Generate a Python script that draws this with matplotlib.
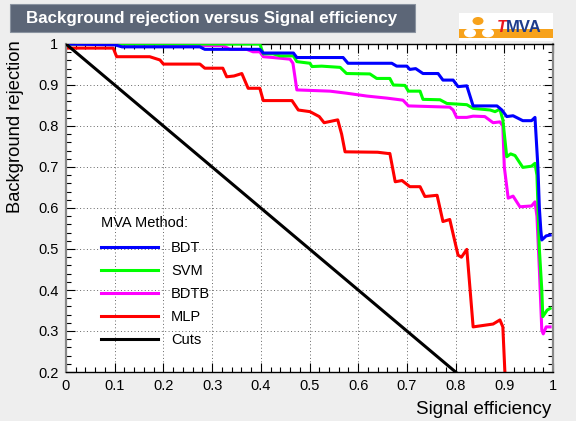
import numpy as np
import matplotlib
matplotlib.use('Agg')
import matplotlib.pyplot as plt
from matplotlib.patches import Rectangle, Circle
from matplotlib.ticker import MultipleLocator, FuncFormatter

plt.rcParams['font.family'] = ['Liberation Sans', 'DejaVu Sans']

# ---- ROC curves (signal efficiency, background rejection)
bdt_x = [0, 0.100, 0.115, 0.275, 0.285, 0.398, 0.405, 0.467, 0.474, 0.569, 0.579,
         0.669, 0.679, 0.700, 0.706, 0.718, 0.733, 0.764, 0.774, 0.795, 0.805,
         0.823, 0.836, 0.885, 0.895, 0.905, 0.918, 0.938, 0.956, 0.963, 0.969,
         0.972, 0.975, 0.977, 0.986, 0.994]
bdt_y = [1, 0.998, 0.993, 0.993, 0.987, 0.987, 0.978, 0.978, 0.967, 0.967, 0.953,
         0.953, 0.946, 0.946, 0.938, 0.940, 0.928, 0.928, 0.912, 0.912, 0.896,
         0.898, 0.849, 0.849, 0.839, 0.823, 0.825, 0.813, 0.813, 0.821, 0.700,
         0.600, 0.546, 0.522, 0.532, 0.534]

svm_x = [0, 0.398, 0.405, 0.425, 0.440, 0.467, 0.474, 0.501, 0.505, 0.525, 0.563,
         0.576, 0.624, 0.638, 0.665, 0.672, 0.696, 0.703, 0.727, 0.733, 0.768,
         0.782, 0.823, 0.836, 0.871, 0.881, 0.891, 0.897, 0.905, 0.913, 0.922,
         0.938, 0.956, 0.963, 0.967, 0.972, 0.977, 0.979, 0.988, 0.994]
svm_y = [1, 1.0, 0.976, 0.976, 0.971, 0.971, 0.957, 0.953, 0.945, 0.946, 0.943,
         0.928, 0.927, 0.916, 0.916, 0.900, 0.899, 0.885, 0.885, 0.865, 0.864,
         0.855, 0.852, 0.843, 0.839, 0.835, 0.841, 0.815, 0.725, 0.732, 0.728,
         0.699, 0.702, 0.709, 0.680, 0.500, 0.400, 0.335, 0.351, 0.355]

bdtb_x = [0, 0.200, 0.210, 0.322, 0.337, 0.371, 0.384, 0.398, 0.405, 0.425, 0.460,
          0.466, 0.474, 0.542, 0.576, 0.618, 0.659, 0.692, 0.703, 0.788, 0.795,
          0.802, 0.823, 0.836, 0.860, 0.877, 0.891, 0.897, 0.900, 0.908, 0.918,
          0.932, 0.956, 0.963, 0.967, 0.972, 0.977, 0.980, 0.986, 0.994]
bdtb_y = [1, 1.0, 0.997, 0.996, 0.987, 0.987, 0.981, 0.981, 0.969, 0.967, 0.963,
          0.953, 0.888, 0.885, 0.880, 0.873, 0.868, 0.863, 0.849, 0.846, 0.839,
          0.821, 0.821, 0.824, 0.823, 0.808, 0.810, 0.800, 0.700, 0.624, 0.629,
          0.603, 0.605, 0.615, 0.580, 0.450, 0.302, 0.293, 0.310, 0.310]

mlp_x = [0, 0.097, 0.104, 0.172, 0.193, 0.200, 0.275, 0.285, 0.322, 0.330, 0.345,
         0.361, 0.374, 0.398, 0.405, 0.464, 0.477, 0.501, 0.520, 0.530, 0.558,
         0.566, 0.573, 0.640, 0.661, 0.665, 0.676, 0.690, 0.706, 0.727, 0.737,
         0.762, 0.774, 0.788, 0.805, 0.812, 0.823, 0.836, 0.877, 0.891, 0.897,
         0.901, 0.902]
mlp_y = [0.99, 0.99, 0.969, 0.969, 0.961, 0.951, 0.951, 0.941, 0.941, 0.920, 0.922,
         0.928, 0.892, 0.892, 0.862, 0.862, 0.839, 0.835, 0.823, 0.808, 0.815,
         0.780, 0.737, 0.736, 0.733, 0.733, 0.664, 0.667, 0.652, 0.652, 0.628,
         0.631, 0.567, 0.572, 0.485, 0.480, 0.499, 0.310, 0.317, 0.327, 0.310,
         0.205, 0.190]

cuts_x = [0, 0.2, 0.4, 0.6, 0.8, 0.81]
cuts_y = [1, 0.8, 0.6, 0.4, 0.2, 0.19]

methods = ['BDT', 'SVM', 'BDTB', 'MLP', 'Cuts']
colors = ['#0000ff', '#00ff00', '#ff00ff', '#ff0000', '#000000']

W, H = 576, 421
fig = plt.figure(figsize=(W/100., H/100.), dpi=100, facecolor='#eeeeee')
ax = fig.add_axes([66./W, 1-372./H, (553.-66)/W, (372.-44)/H])
ax.set_facecolor('white')

curves = {'BDT': (bdt_x, bdt_y), 'SVM': (svm_x, svm_y), 'BDTB': (bdtb_x, bdtb_y),
          'MLP': (mlp_x, mlp_y), 'Cuts': (cuts_x, cuts_y)}
handles = {}
for m, c, z in zip(methods, colors, [5, 4, 3, 2, 6]):
    x, y = curves[m]
    l, = ax.plot(x, y, color=c, lw=2.2, zorder=z, label=m, solid_joinstyle='round')
    handles[m] = l

ax.set_xlim(0, 1)
ax.set_ylim(0.2, 1)
ax.xaxis.set_major_locator(MultipleLocator(0.1))
ax.xaxis.set_minor_locator(MultipleLocator(0.02))
ax.yaxis.set_major_locator(MultipleLocator(0.1))
ax.yaxis.set_minor_locator(MultipleLocator(0.02))
fmt = FuncFormatter(lambda v, p: ('%g' % round(v, 2)))
ax.xaxis.set_major_formatter(fmt)
ax.yaxis.set_major_formatter(fmt)
ax.tick_params(which='both', direction='in', top=True, right=True, labelsize=10.5, width=0.8)
ax.tick_params(which='major', length=6.5)
ax.tick_params(which='minor', length=3.3)
ax.tick_params(axis='x', pad=5)
ax.tick_params(axis='y', pad=5.5)
ax.grid(which='major', linestyle=(0, (1, 2.5)), color='#666666', lw=0.7)
for s in ['left', 'right']:
    ax.spines[s].set_color('#888888')
    ax.spines[s].set_linewidth(1.6)
for s in ['top', 'bottom']:
    ax.spines[s].set_color('black')
    ax.spines[s].set_linewidth(1.0)

leg = ax.legend([handles[m] for m in methods], methods, title='MVA Method:',
                loc='upper left', bbox_to_anchor=(101./W, 1-216./H),
                bbox_transform=fig.transFigure, frameon=False, fontsize=10.5,
                title_fontsize=10.5, alignment='left', handlelength=3.9,
                handletextpad=0.9, labelspacing=0.62, borderpad=0, borderaxespad=0)
leg._legend_box.sep = 8
leg.set_zorder(10)

fig.text(551./W, 1-410./H, 'Signal efficiency', ha='right', va='center', fontsize=13.5)
fig.text(16./W, 1-40./H, 'Background rejection', ha='center', va='top',
         rotation=90, fontsize=13.2)

# title box
fig.patches.append(Rectangle((10./W, 1-32./H), 405./W, 28./H, transform=fig.transFigure,
                             facecolor='#5c6677', edgecolor='#8a93a0', lw=0.8))
fig.text(26./W, 1-18./H, 'Background rejection versus Signal efficiency', color='white',
         fontsize=12.2, fontweight='bold', ha='left', va='center')

# TMVA logo
fig.patches.append(Rectangle((459./W, 1-41./H), 94./W, 28./H, transform=fig.transFigure,
                             facecolor='white', edgecolor='none'))
fig.patches.append(Rectangle((459./W, 1-38./H), 94./W, 9.5/H, transform=fig.transFigure,
                             facecolor='#f7a21b', edgecolor='none'))
for cx, cy, r, fc in [(478, 21, 5.5, '#f7a21b'), (470, 33, 6, 'white'), (488, 33, 6, 'white')]:
    fig.patches.append(Circle((cx/float(W), 1-cy/float(H)), r/float(W),
                              transform=fig.transFigure, facecolor=fc, edgecolor='none'))
fig.text(497./W, 1-28./H, 'T', color='#e8141c', fontsize=12, fontweight='bold',
         style='italic', ha='left', va='center')
fig.text(506./W, 1-28./H, 'MVA', color='#1e3c8c', fontsize=12, fontweight='bold',
         ha='left', va='center')

fig.savefig('out.png', dpi=100, facecolor=fig.get_facecolor())
